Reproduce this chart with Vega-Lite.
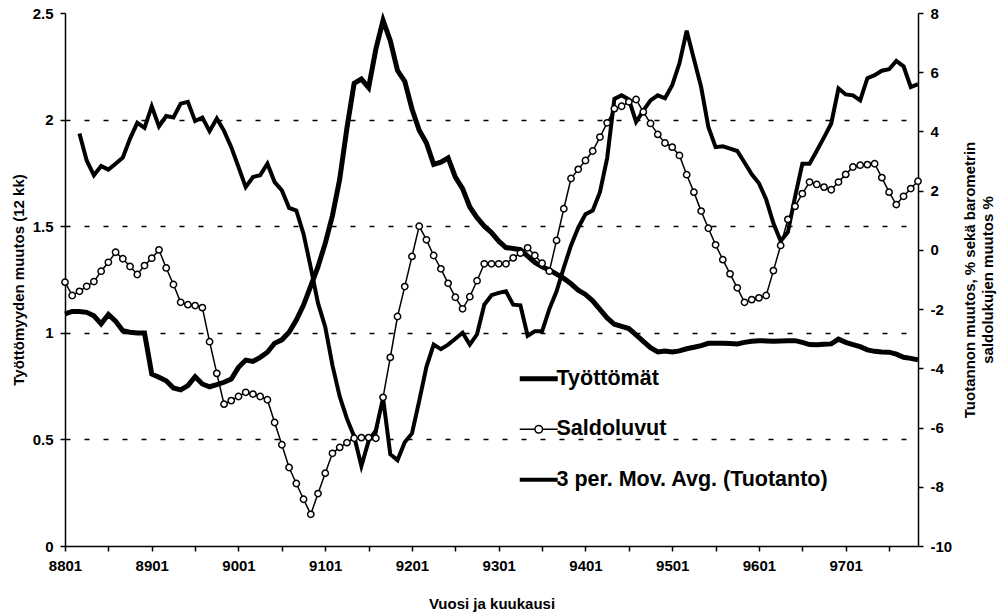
{
  "$schema": "https://vega.github.io/schema/vega-lite/v6.json",
  "width": 853,
  "height": 533,
  "autosize": {"type": "none"},
  "padding": {"left": 65, "top": 13, "right": 90, "bottom": 67},
  "background": "white",
  "config": {
    "view": {"stroke": null},
    "font": "Liberation Sans",
    "axis": {
      "labelFont": "Liberation Sans", "labelFontWeight": "bold", "labelColor": "black", "labelFontSize": 15,
      "titleFont": "Liberation Sans", "titleFontWeight": "bold", "titleColor": "black", "titleFontSize": 15,
      "domainColor": "black", "domainWidth": 1.5, "tickColor": "black", "tickWidth": 1.5, "tickSize": 5,
      "grid": false
    },
    "legend": {
      "orient": "none", "legendX": 463, "legendY": 355, "padding": 0,
      "symbolType": "stroke", "symbolSize": 1444, "symbolStrokeColor": "black",
      "labelFont": "Liberation Sans", "labelFontWeight": "bold", "labelFontSize": 21.5, "labelColor": "black",
      "labelOffset": 7, "rowPadding": 27.5, "labelLimit": 0
    }
  },
  "data": {"values": [
    {"kk":"8801","t":1.089,"sa":-1.09,"ma":null},
    {"kk":"8802","t":1.10,"sa":-1.54,"ma":null},
    {"kk":"8803","t":1.10,"sa":-1.40,"ma":3.93},
    {"kk":"8804","t":1.096,"sa":-1.23,"ma":3.02},
    {"kk":"8805","t":1.08,"sa":-1.07,"ma":2.52},
    {"kk":"8806","t":1.042,"sa":-0.72,"ma":2.83},
    {"kk":"8807","t":1.086,"sa":-0.42,"ma":2.71},
    {"kk":"8808","t":1.054,"sa":-0.08,"ma":2.91},
    {"kk":"8809","t":1.01,"sa":-0.30,"ma":3.12},
    {"kk":"8810","t":1.003,"sa":-0.56,"ma":3.76},
    {"kk":"8811","t":0.999,"sa":-0.83,"ma":4.29},
    {"kk":"8812","t":0.999,"sa":-0.53,"ma":4.12},
    {"kk":"8901","t":0.807,"sa":-0.28,"ma":4.85},
    {"kk":"8902","t":0.791,"sa":0.0,"ma":4.17},
    {"kk":"8903","t":0.775,"sa":-0.61,"ma":4.52},
    {"kk":"8904","t":0.741,"sa":-1.17,"ma":4.47},
    {"kk":"8905","t":0.732,"sa":-1.77,"ma":4.94},
    {"kk":"8906","t":0.752,"sa":-1.85,"ma":5.0},
    {"kk":"8907","t":0.794,"sa":-1.88,"ma":4.35},
    {"kk":"8908","t":0.760,"sa":-1.95,"ma":4.47},
    {"kk":"8909","t":0.747,"sa":-3.10,"ma":4.01},
    {"kk":"8910","t":0.757,"sa":-4.17,"ma":4.44},
    {"kk":"8911","t":0.768,"sa":-5.21,"ma":4.02},
    {"kk":"8912","t":0.783,"sa":-5.09,"ma":3.47},
    {"kk":"9001","t":0.838,"sa":-4.95,"ma":2.80},
    {"kk":"9002","t":0.872,"sa":-4.81,"ma":2.12},
    {"kk":"9003","t":0.866,"sa":-4.87,"ma":2.46},
    {"kk":"9004","t":0.885,"sa":-4.95,"ma":2.52},
    {"kk":"9005","t":0.909,"sa":-5.06,"ma":2.91},
    {"kk":"9006","t":0.951,"sa":-5.83,"ma":2.29},
    {"kk":"9007","t":0.967,"sa":-6.58,"ma":2.01},
    {"kk":"9008","t":1.003,"sa":-7.35,"ma":1.42},
    {"kk":"9009","t":1.06,"sa":-7.89,"ma":1.33},
    {"kk":"9010","t":1.13,"sa":-8.42,"ma":0.54},
    {"kk":"9011","t":1.22,"sa":-8.93,"ma":-0.6},
    {"kk":"9012","t":1.31,"sa":-8.23,"ma":-1.8},
    {"kk":"9101","t":1.42,"sa":-7.54,"ma":-2.6},
    {"kk":"9102","t":1.55,"sa":-6.87,"ma":-3.9},
    {"kk":"9103","t":1.72,"sa":-6.67,"ma":-4.95},
    {"kk":"9104","t":1.96,"sa":-6.51,"ma":-5.7},
    {"kk":"9105","t":2.17,"sa":-6.36,"ma":-6.3},
    {"kk":"9106","t":2.19,"sa":-6.34,"ma":-7.3},
    {"kk":"9107","t":2.15,"sa":-6.34,"ma":-6.45},
    {"kk":"9108","t":2.33,"sa":-6.36,"ma":-6.1},
    {"kk":"9109","t":2.465,"sa":-4.98,"ma":-5.0},
    {"kk":"9110","t":2.37,"sa":-3.63,"ma":-6.9},
    {"kk":"9111","t":2.23,"sa":-2.25,"ma":-7.1},
    {"kk":"9112","t":2.18,"sa":-1.24,"ma":-6.5},
    {"kk":"9201","t":2.05,"sa":-0.22,"ma":-6.2},
    {"kk":"9202","t":1.95,"sa":0.80,"ma":-5.1},
    {"kk":"9203","t":1.89,"sa":0.34,"ma":-3.95},
    {"kk":"9204","t":1.79,"sa":-0.19,"ma":-3.2},
    {"kk":"9205","t":1.80,"sa":-0.64,"ma":-3.35},
    {"kk":"9206","t":1.82,"sa":-1.13,"ma":-3.2},
    {"kk":"9207","t":1.73,"sa":-1.60,"ma":-3.0},
    {"kk":"9208","t":1.676,"sa":-1.99,"ma":-2.8},
    {"kk":"9209","t":1.59,"sa":-1.58,"ma":-3.2},
    {"kk":"9210","t":1.54,"sa":-1.04,"ma":-2.85},
    {"kk":"9211","t":1.50,"sa":-0.47,"ma":-1.85},
    {"kk":"9212","t":1.47,"sa":-0.47,"ma":-1.53},
    {"kk":"9301","t":1.43,"sa":-0.47,"ma":-1.45},
    {"kk":"9302","t":1.40,"sa":-0.47,"ma":-1.4},
    {"kk":"9303","t":1.395,"sa":-0.27,"ma":-1.85},
    {"kk":"9304","t":1.39,"sa":-0.11,"ma":-1.87},
    {"kk":"9305","t":1.36,"sa":0.07,"ma":-2.9},
    {"kk":"9306","t":1.33,"sa":-0.19,"ma":-2.75},
    {"kk":"9307","t":1.31,"sa":-0.45,"ma":-2.75},
    {"kk":"9308","t":1.295,"sa":-0.72,"ma":-2.0},
    {"kk":"9309","t":1.275,"sa":0.32,"ma":-1.4},
    {"kk":"9310","t":1.255,"sa":1.39,"ma":-0.6},
    {"kk":"9311","t":1.23,"sa":2.41,"ma":0.15},
    {"kk":"9312","t":1.20,"sa":2.72,"ma":0.75},
    {"kk":"9401","t":1.18,"sa":3.02,"ma":1.2},
    {"kk":"9402","t":1.15,"sa":3.34,"ma":1.33},
    {"kk":"9403","t":1.11,"sa":3.81,"ma":1.95},
    {"kk":"9404","t":1.07,"sa":4.29,"ma":3.1},
    {"kk":"9405","t":1.04,"sa":4.77,"ma":5.1},
    {"kk":"9406","t":1.03,"sa":4.85,"ma":5.22},
    {"kk":"9407","t":1.02,"sa":5.00,"ma":5.08},
    {"kk":"9408","t":0.99,"sa":5.08,"ma":4.32},
    {"kk":"9409","t":0.96,"sa":4.66,"ma":4.7},
    {"kk":"9410","t":0.93,"sa":4.27,"ma":5.05},
    {"kk":"9411","t":0.91,"sa":3.90,"ma":5.22},
    {"kk":"9412","t":0.915,"sa":3.61,"ma":5.12},
    {"kk":"9501","t":0.91,"sa":3.47,"ma":5.56},
    {"kk":"9502","t":0.915,"sa":3.19,"ma":6.3},
    {"kk":"9503","t":0.925,"sa":2.54,"ma":7.4},
    {"kk":"9504","t":0.932,"sa":1.95,"ma":6.45},
    {"kk":"9505","t":0.94,"sa":1.31,"ma":5.5},
    {"kk":"9506","t":0.951,"sa":0.73,"ma":4.15},
    {"kk":"9507","t":0.951,"sa":0.17,"ma":3.47},
    {"kk":"9508","t":0.951,"sa":-0.33,"ma":3.5},
    {"kk":"9509","t":0.95,"sa":-0.81,"ma":3.42},
    {"kk":"9510","t":0.948,"sa":-1.28,"ma":3.34},
    {"kk":"9511","t":0.955,"sa":-1.77,"ma":2.95},
    {"kk":"9512","t":0.96,"sa":-1.68,"ma":2.55},
    {"kk":"9601","t":0.963,"sa":-1.62,"ma":2.25},
    {"kk":"9602","t":0.962,"sa":-1.54,"ma":1.7},
    {"kk":"9603","t":0.96,"sa":-0.70,"ma":0.9},
    {"kk":"9604","t":0.962,"sa":0.15,"ma":0.3},
    {"kk":"9605","t":0.963,"sa":1.03,"ma":0.6},
    {"kk":"9606","t":0.963,"sa":1.47,"ma":1.8},
    {"kk":"9607","t":0.955,"sa":1.90,"ma":2.91},
    {"kk":"9608","t":0.945,"sa":2.29,"ma":2.91},
    {"kk":"9609","t":0.944,"sa":2.21,"ma":3.35},
    {"kk":"9610","t":0.946,"sa":2.12,"ma":3.8},
    {"kk":"9611","t":0.948,"sa":2.03,"ma":4.27},
    {"kk":"9612","t":0.97,"sa":2.29,"ma":5.45},
    {"kk":"9701","t":0.955,"sa":2.55,"ma":5.25},
    {"kk":"9702","t":0.945,"sa":2.80,"ma":5.22},
    {"kk":"9703","t":0.935,"sa":2.86,"ma":5.05},
    {"kk":"9704","t":0.92,"sa":2.88,"ma":5.8},
    {"kk":"9705","t":0.913,"sa":2.91,"ma":5.9},
    {"kk":"9706","t":0.91,"sa":2.44,"ma":6.05},
    {"kk":"9707","t":0.909,"sa":1.95,"ma":6.1},
    {"kk":"9708","t":0.9,"sa":1.53,"ma":6.38},
    {"kk":"9709","t":0.885,"sa":1.81,"ma":6.2},
    {"kk":"9710","t":0.88,"sa":2.07,"ma":5.5},
    {"kk":"9711","t":0.873,"sa":2.32,"ma":5.6}
  ]},
  "encoding": {
    "x": {
      "field": "kk", "type": "ordinal",
      "scale": {"type": "point", "padding": 0},
      "axis": {
        "title": "Vuosi ja kuukausi",
        "values": ["8801","8807","8901","8907","9001","9007","9101","9107","9201","9207","9301","9307","9401","9407","9501","9507","9601","9607","9701","9707"],
        "labelExpr": "slice(datum.label, 2) == '01' ? datum.label : ''",
        "labelAngle": 0, "labelOverlap": false, "labelPadding": 7, "titlePadding": 23
      }
    }
  },
  "layer": [
    {
      "mark": {"type": "line", "strokeWidth": 5, "color": "black"},
      "encoding": {
        "y": {
          "field": "t", "type": "quantitative",
          "scale": {"domain": [0, 2.5], "nice": false, "zero": false},
          "axis": {
            "orient": "left",
            "title": "Työttömyyden muutos (12 kk)",
            "values": [0, 0.5, 1, 1.5, 2, 2.5],
            "labelExpr": "datum.value + ''",
            "labelPadding": 7, "titlePadding": 6,
            "grid": true, "gridColor": "black", "gridWidth": 1.5, "gridDash": [5, 14],
            "gridOpacity": {"condition": {"test": "datum.value == 0 || datum.value == 2.5", "value": 0}, "value": 1}
          }
        },
        "color": {
          "datum": "Työttömät",
          "scale": {"domain": ["Työttömät", "Saldoluvut", "3 per. Mov. Avg. (Tuotanto)"], "range": ["black", "black", "black"]},
          "legend": {
            "title": null,
            "encode": {
              "symbols": {
                "update": {
                  "shape": {"signal": "datum.value == 'Saldoluvut' ? 'M-1,0L-0.2,0M0.2,0L1,0M0.2,0A0.2,0.2,0,1,1,-0.2,0A0.2,0.2,0,1,1,0.2,0Z' : 'stroke'"},
                  "strokeWidth": {"signal": "datum.value == 'Työttömät' ? 5 : datum.value == 'Saldoluvut' ? 1.5 : 4"},
                  "fill": {"value": "white"},
                  "fillOpacity": {"value": 1},
                  "stroke": {"value": "black"},
                  "strokeOpacity": {"value": 1}
                }
              }
            }
          }
        }
      }
    },
    {
      "layer": [
        {
          "mark": {"type": "line", "strokeWidth": 4, "color": "black"},
          "encoding": {
            "y": {
              "field": "ma", "type": "quantitative",
              "scale": {"domain": [-10, 8], "nice": false, "zero": false},
              "axis": {
                "orient": "right",
                "title": ["Tuotannon muutos, % sekä barometrin", "saldolukujen muutos %"],
                "titleAngle": 270, "titleLineHeight": 18,
                "values": [-10, -8, -6, -4, -2, 0, 2, 4, 6, 8],
                "labelExpr": "datum.value + ''",
                "labelPadding": 7, "titlePadding": 8
              }
            },
            "color": {"datum": "3 per. Mov. Avg. (Tuotanto)"}
          }
        },
        {
          "mark": {"type": "line", "strokeWidth": 1.5, "color": "black"},
          "encoding": {
            "y": {"field": "sa", "type": "quantitative"},
            "color": {"datum": "Saldoluvut"}
          }
        },
        {
          "mark": {"type": "point", "shape": "circle", "filled": true, "fill": "white", "stroke": "black", "strokeWidth": 1.5, "size": 40, "opacity": 1},
          "encoding": {
            "y": {"field": "sa", "type": "quantitative"}
          }
        }
      ]
    }
  ],
  "resolve": {"scale": {"y": "independent"}}
}
